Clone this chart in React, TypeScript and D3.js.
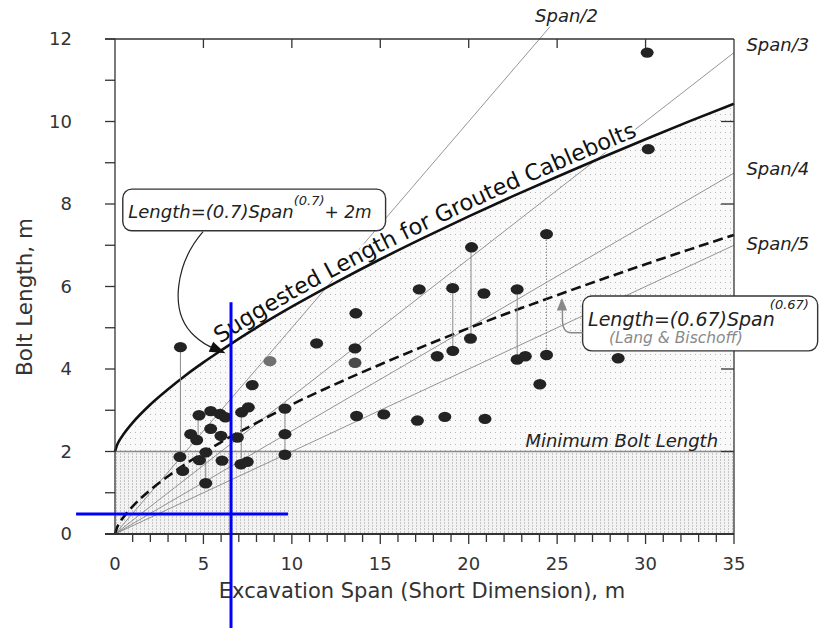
import React, { useEffect, useRef } from 'react';
import * as d3 from 'd3';

// case histories: excavation span (m) vs installed bolt length (m)
const caseSpan = [3.7, 3.67, 3.83, 4.28, 4.62, 4.75, 4.77, 5.14, 5.13, 5.41, 5.41, 5.94, 6.24, 5.99, 6.05, 6.92, 7.16, 7.54, 7.12, 7.48, 7.76, 9.61, 9.61, 9.61, 11.4, 13.62, 13.57, 13.66, 15.2, 17.1, 17.2, 18.22, 18.65, 19.09, 19.1, 20.16, 20.1, 20.86, 20.92, 22.74, 22.74, 23.2, 24.4, 24.4, 24.02, 28.45, 30.09, 30.15];
const caseLength = [4.53, 1.87, 1.53, 2.42, 2.28, 2.88, 1.79, 1.98, 1.23, 2.98, 2.55, 2.91, 2.83, 2.38, 1.78, 2.34, 2.95, 3.07, 1.69, 1.75, 3.61, 3.04, 2.42, 1.92, 4.62, 5.35, 4.5, 2.86, 2.9, 2.75, 5.93, 4.31, 2.84, 5.96, 4.44, 6.95, 4.74, 5.83, 2.79, 5.93, 4.23, 4.31, 7.27, 4.34, 3.63, 4.26, 11.67, 9.33];
// lighter printed points
const fadedSpan = [8.76, 13.57];
const fadedLength = [4.19, 4.15];

// ranges of bolt length used at one site
const rangeSpan = [3.7, 4.7, 5.13, 7.14, 9.61, 19.1, 20.13, 22.74];
const rangeLow = [1.87, 2.28, 1.23, 1.69, 1.92, 4.44, 4.74, 4.23];
const rangeHigh = [4.53, 2.88, 1.98, 2.95, 3.04, 5.96, 6.95, 5.93];
const dottedRangeSpan = [24.4];
const dottedRangeLow = [4.34];
const dottedRangeHigh = [7.27];

// design curves
const curveSpan = [0, 0.1, 0.25, 0.5, 1, 2, 3, 4, 5, 6, 7.5, 10, 12.5, 15, 17.5, 20, 22.5, 25, 27.5, 30, 32.5, 35];
const suggestedLength = [2.0, 2.14, 2.27, 2.43, 2.7, 3.14, 3.51, 3.85, 4.16, 4.45, 4.87, 5.51, 6.1, 6.66, 7.19, 7.7, 8.19, 8.66, 9.12, 9.57, 10.01, 10.43];
const langLength = [0, 0.14, 0.27, 0.42, 0.67, 1.07, 1.4, 1.7, 1.97, 2.23, 2.58, 3.14, 3.64, 4.11, 4.56, 4.99, 5.4, 5.79, 6.17, 6.54, 6.9, 7.25];

// span/n rule lines
const spanLabels = ['Span/2', 'Span/3', 'Span/4', 'Span/5'];
const spanEndX = [24.6, 35, 35, 35];
const spanEndY = [12.3, 11.67, 8.75, 7.0];

const minimumLength = 2;
const xTicks = [0, 5, 10, 15, 20, 25, 30, 35];
const yTicks = [0, 2, 4, 6, 8, 10, 12];

const App = () => {
  const svgRef = useRef<SVGSVGElement>(null);

  useEffect(() => {
    const width = 819;
    const height = 630;
    const font = '"DejaVu Sans", sans-serif';

    d3.select(svgRef.current).selectAll('*').remove();

    const svg = d3.select(svgRef.current)
      .attr('width', width)
      .attr('height', height)
      .style('position', 'absolute')
      .style('left', '0px')
      .style('top', '0px')
      .style('background', '#fff');

    const x = d3.scaleLinear().domain([0, 35]).range([115, 734]);
    const y = d3.scaleLinear().domain([0, 12]).range([534, 39]);

    const defs = svg.append('defs');
    const dots = defs.append('pattern')
      .attr('id', 'dotsA').attr('width', 5).attr('height', 6)
      .attr('patternUnits', 'userSpaceOnUse');
    dots.append('rect').attr('width', 5).attr('height', 6).attr('fill', '#f9f9f9');
    dots.append('rect').attr('width', 1).attr('height', 1).attr('fill', '#b5b5b5');

    const stripes = defs.append('pattern')
      .attr('id', 'stripesB').attr('width', 4).attr('height', 3)
      .attr('patternUnits', 'userSpaceOnUse');
    stripes.append('rect').attr('width', 4).attr('height', 3).attr('fill', '#f3f3f3');
    stripes.append('rect').attr('width', 1).attr('height', 2).attr('fill', '#c6c6c6');

    const suggested = curveSpan.map((s, i) => ({ s, v: suggestedLength[i] }));
    const lang = curveSpan.map((s, i) => ({ s, v: langLength[i] }));

    // shaded zones
    svg.append('path')
      .datum(suggested)
      .attr('fill', 'url(#dotsA)')
      .attr('d', d3.area<{ s: number; v: number }>()
        .x(d => x(d.s))
        .y0(y(minimumLength))
        .y1(d => y(d.v))
        .curve(d3.curveMonotoneX));

    svg.append('rect')
      .attr('x', x(0)).attr('y', y(minimumLength))
      .attr('width', x(35) - x(0)).attr('height', y(0) - y(minimumLength))
      .attr('fill', 'url(#stripesB)');

    // minimum bolt length
    svg.append('line')
      .attr('x1', x(0)).attr('x2', x(35))
      .attr('y1', y(minimumLength)).attr('y2', y(minimumLength))
      .attr('stroke', '#8a8a8a').attr('stroke-width', 1.6);

    // span/n lines
    spanEndX.forEach((ex, i) => {
      svg.append('line')
        .attr('x1', x(0)).attr('y1', y(0))
        .attr('x2', x(ex)).attr('y2', y(spanEndY[i]))
        .attr('stroke', '#7a7a7a').attr('stroke-width', 0.8);
    });

    const spanLabelPos = [[23.75, 12.41], [35.7, 11.72], [35.7, 8.7], [35.7, 6.88]];
    spanLabels.forEach((t, i) => {
      svg.append('text')
        .attr('x', x(spanLabelPos[i][0])).attr('y', y(spanLabelPos[i][1]))
        .attr('font-family', font).attr('font-style', 'italic')
        .attr('font-size', 18).attr('fill', '#222')
        .text(t);
    });

    // label along the suggested curve, lifted off it
    const onCurve = suggested.filter(d => d.s >= 6).map(d => [x(d.s), y(d.v)]);
    const lifted = onCurve.map((p, i) => {
      const a = onCurve[Math.max(0, i - 1)];
      const b = onCurve[Math.min(onCurve.length - 1, i + 1)];
      const tx = b[0] - a[0];
      const ty = b[1] - a[1];
      const len = Math.hypot(tx, ty);
      return [p[0] + (ty / len) * 6, p[1] - (tx / len) * 6] as [number, number];
    });
    defs.append('path')
      .attr('id', 'labelPath')
      .attr('d', d3.line().curve(d3.curveCatmullRom)(lifted));

    // one text per word so each word keeps a tight box
    const labelSize = 22.5;
    let offset = 3;
    'Suggested Length for Grouted Cablebolts'.split(' ').forEach(word => {
      const t = svg.append('text')
        .attr('font-family', font).attr('font-size', labelSize)
        .attr('fill', '#111')
        .attr('stroke', '#fff').attr('stroke-width', 5)
        .attr('paint-order', 'stroke')
        .attr('stroke-linejoin', 'round');
      t.append('textPath')
        .attr('href', '#labelPath')
        .attr('startOffset', offset)
        .text(word);
      const node = t.node() as SVGTextElement;
      const w = node.getComputedTextLength ? node.getComputedTextLength() : word.length * labelSize * 0.6;
      offset += w + labelSize * 0.318;
    });

    // design curves
    const curveLine = d3.line<{ s: number; v: number }>()
      .x(d => x(d.s))
      .y(d => y(d.v))
      .curve(d3.curveMonotoneX);

    svg.append('path')
      .datum(suggested)
      .attr('fill', 'none').attr('stroke', '#111').attr('stroke-width', 2.6)
      .attr('d', curveLine);

    svg.append('path')
      .datum(lang)
      .attr('fill', 'none').attr('stroke', '#111').attr('stroke-width', 2.6)
      .attr('stroke-dasharray', '10,5')
      .attr('d', curveLine);

    // range connectors
    rangeSpan.forEach((s, i) => {
      svg.append('line')
        .attr('x1', x(s)).attr('x2', x(s))
        .attr('y1', y(rangeLow[i])).attr('y2', y(rangeHigh[i]))
        .attr('stroke', '#8a8a8a').attr('stroke-width', 1);
    });
    dottedRangeSpan.forEach((s, i) => {
      svg.append('line')
        .attr('x1', x(s)).attr('x2', x(s))
        .attr('y1', y(dottedRangeLow[i])).attr('y2', y(dottedRangeHigh[i]))
        .attr('stroke', '#8a8a8a').attr('stroke-width', 1)
        .attr('stroke-dasharray', '1.5,1.5');
    });

    // case history points
    svg.selectAll('.pt')
      .data(caseSpan.map((s, i) => ({ s, v: caseLength[i] })))
      .enter().append('ellipse')
      .attr('class', 'pt')
      .attr('cx', d => x(d.s)).attr('cy', d => y(d.v))
      .attr('rx', 6.5).attr('ry', 5.2)
      .attr('fill', '#232323');

    svg.selectAll('.fpt')
      .data(fadedSpan.map((s, i) => ({ s, v: fadedLength[i] })))
      .enter().append('ellipse')
      .attr('class', 'fpt')
      .attr('cx', d => x(d.s)).attr('cy', d => y(d.v))
      .attr('rx', 6.5).attr('ry', 5.2)
      .attr('fill', (d, i) => (i === 0 ? '#707070' : '#4a4a4a'));

    // frame and ticks
    const frame = svg.append('g').attr('stroke', '#333').attr('stroke-width', 1.3);
    frame.append('line').attr('x1', x(0)).attr('x2', x(0)).attr('y1', y(0)).attr('y2', y(12));
    frame.append('line').attr('x1', x(35)).attr('x2', x(35)).attr('y1', y(0)).attr('y2', y(12));
    frame.append('line').attr('x1', x(0) - 10).attr('x2', x(35)).attr('y1', y(12)).attr('y2', y(12));
    frame.append('line').attr('x1', x(0) - 10).attr('x2', x(35)).attr('y1', y(0)).attr('y2', y(0))
      .attr('stroke-width', 1.8);

    d3.range(0, 13).forEach(v => {
      frame.append('line').attr('x1', x(0) - 10).attr('x2', x(0)).attr('y1', y(v)).attr('y2', y(v));
    });
    d3.range(1, 36).forEach(v => {
      frame.append('line').attr('x1', x(v)).attr('x2', x(v))
        .attr('y1', y(0)).attr('y2', y(0) + (v % 5 === 0 ? 10 : 8));
    });
    xTicks.filter(v => v > 0 && v < 35).forEach(v => {
      frame.append('line').attr('x1', x(v)).attr('x2', x(v)).attr('y1', y(12)).attr('y2', y(12) + 9);
    });
    [2, 4, 8, 10].forEach(v => {
      frame.append('line').attr('x1', x(35) - 13).attr('x2', x(35)).attr('y1', y(v)).attr('y2', y(v));
    });

    svg.selectAll('.ylab')
      .data(yTicks)
      .enter().append('text')
      .attr('x', 72).attr('y', d => y(d)).attr('dy', '0.36em')
      .attr('text-anchor', 'end')
      .attr('font-family', font).attr('font-size', 18).attr('fill', '#333')
      .text(d => d);

    svg.selectAll('.xlab')
      .data(xTicks)
      .enter().append('text')
      .attr('x', d => x(d)).attr('y', 570)
      .attr('text-anchor', 'middle')
      .attr('font-family', font).attr('font-size', 18).attr('fill', '#333')
      .text(d => d);

    svg.append('text')
      .attr('x', 422).attr('y', 598)
      .attr('text-anchor', 'middle')
      .attr('font-family', font).attr('font-size', 21).attr('fill', '#333')
      .text('Excavation Span (Short Dimension), m');

    svg.append('text')
      .attr('transform', 'translate(32,297) rotate(-90)')
      .attr('text-anchor', 'middle')
      .attr('font-family', font).attr('font-size', 21.5).attr('fill', '#333')
      .text('Bolt Length, m');

    svg.append('text')
      .attr('x', x(34.1)).attr('y', y(2.11))
      .attr('text-anchor', 'end')
      .attr('font-family', font).attr('font-style', 'italic')
      .attr('font-size', 18).attr('fill', '#222')
      .text('Minimum Bolt Length');

    // callout for the suggested curve
    svg.append('rect')
      .attr('x', x(0.44)).attr('y', y(8.36))
      .attr('width', x(15.3) - x(0.44)).attr('height', y(7.35) - y(8.36))
      .attr('rx', 9)
      .attr('fill', '#fff').attr('stroke', '#333').attr('stroke-width', 1.4);

    const t1 = svg.append('text')
      .attr('x', x(0.75)).attr('y', y(7.65))
      .attr('font-family', font).attr('font-style', 'italic')
      .attr('font-size', 18).attr('fill', '#222');
    t1.append('tspan').text('Length=(0.7)Span');
    t1.append('tspan').attr('dy', -13).attr('font-size', 13).text('(0.7)');
    t1.append('tspan').attr('dy', 13).attr('font-size', 17).text('+ 2m');

    svg.append('path')
      .attr('d', `M${x(4.98)},${y(7.33)} C${x(3.5)},${y(6.6)} ${x(2.95)},${y(5.4)} ${x(4.5)},${y(4.8)} Q${x(5.0)},${y(4.6)} ${x(5.6)},${y(4.5)}`)
      .attr('fill', 'none').attr('stroke', '#222').attr('stroke-width', 1.2);
    svg.append('path')
      .attr('d', `M${x(6.25)},${y(4.38)} L${x(5.3)},${y(4.42)} L${x(5.55)},${y(4.66)} Z`)
      .attr('fill', '#111');

    // callout for Lang & Bischoff
    svg.append('rect')
      .attr('x', x(26.44)).attr('y', y(5.77))
      .attr('width', x(39.73) - x(26.44)).attr('height', y(4.44) - y(5.77))
      .attr('rx', 9)
      .attr('fill', '#fff').attr('stroke', '#333').attr('stroke-width', 1.4);

    const t2 = svg.append('text')
      .attr('x', x(26.75)).attr('y', y(5.05))
      .attr('font-family', font).attr('font-style', 'italic')
      .attr('font-size', 19).attr('fill', '#222');
    t2.append('tspan').text('Length=(0.67)Span');
    t2.append('tspan').attr('dx', -5).attr('dy', -17).attr('font-size', 13).text('(0.67)');

    svg.append('text')
      .attr('x', x(27.93)).attr('y', y(4.63))
      .attr('font-family', font).attr('font-style', 'italic')
      .attr('font-size', 15.5).attr('fill', '#8a8a8a')
      .text('(Lang & Bischoff)');

    svg.append('path')
      .attr('d', `M${x(26.44)},${y(4.88)} L${x(25.8)},${y(4.88)} Q${x(25.3)},${y(4.88)} ${x(25.3)},${y(5.2)} L${x(25.3)},${y(5.45)}`)
      .attr('fill', 'none').attr('stroke', '#888').attr('stroke-width', 1.4);
    svg.append('path')
      .attr('d', `M${x(25.27)},${y(5.72)} L${x(24.98)},${y(5.42)} L${x(25.56)},${y(5.42)} Z`)
      .attr('fill', '#888');

    // blue reading cross
    svg.append('line')
      .attr('x1', x(6.56)).attr('x2', x(6.56))
      .attr('y1', y(5.62)).attr('y2', y(-2.28))
      .attr('stroke', '#0000ff').attr('stroke-width', 3);
    svg.append('line')
      .attr('x1', x(-2.2)).attr('x2', x(9.78))
      .attr('y1', y(0.485)).attr('y2', y(0.485))
      .attr('stroke', '#0000ff').attr('stroke-width', 3);
  }, []);

  return (
    <div className="bolt-chart">
      <svg ref={svgRef}></svg>
    </div>
  );
};

export default App;
